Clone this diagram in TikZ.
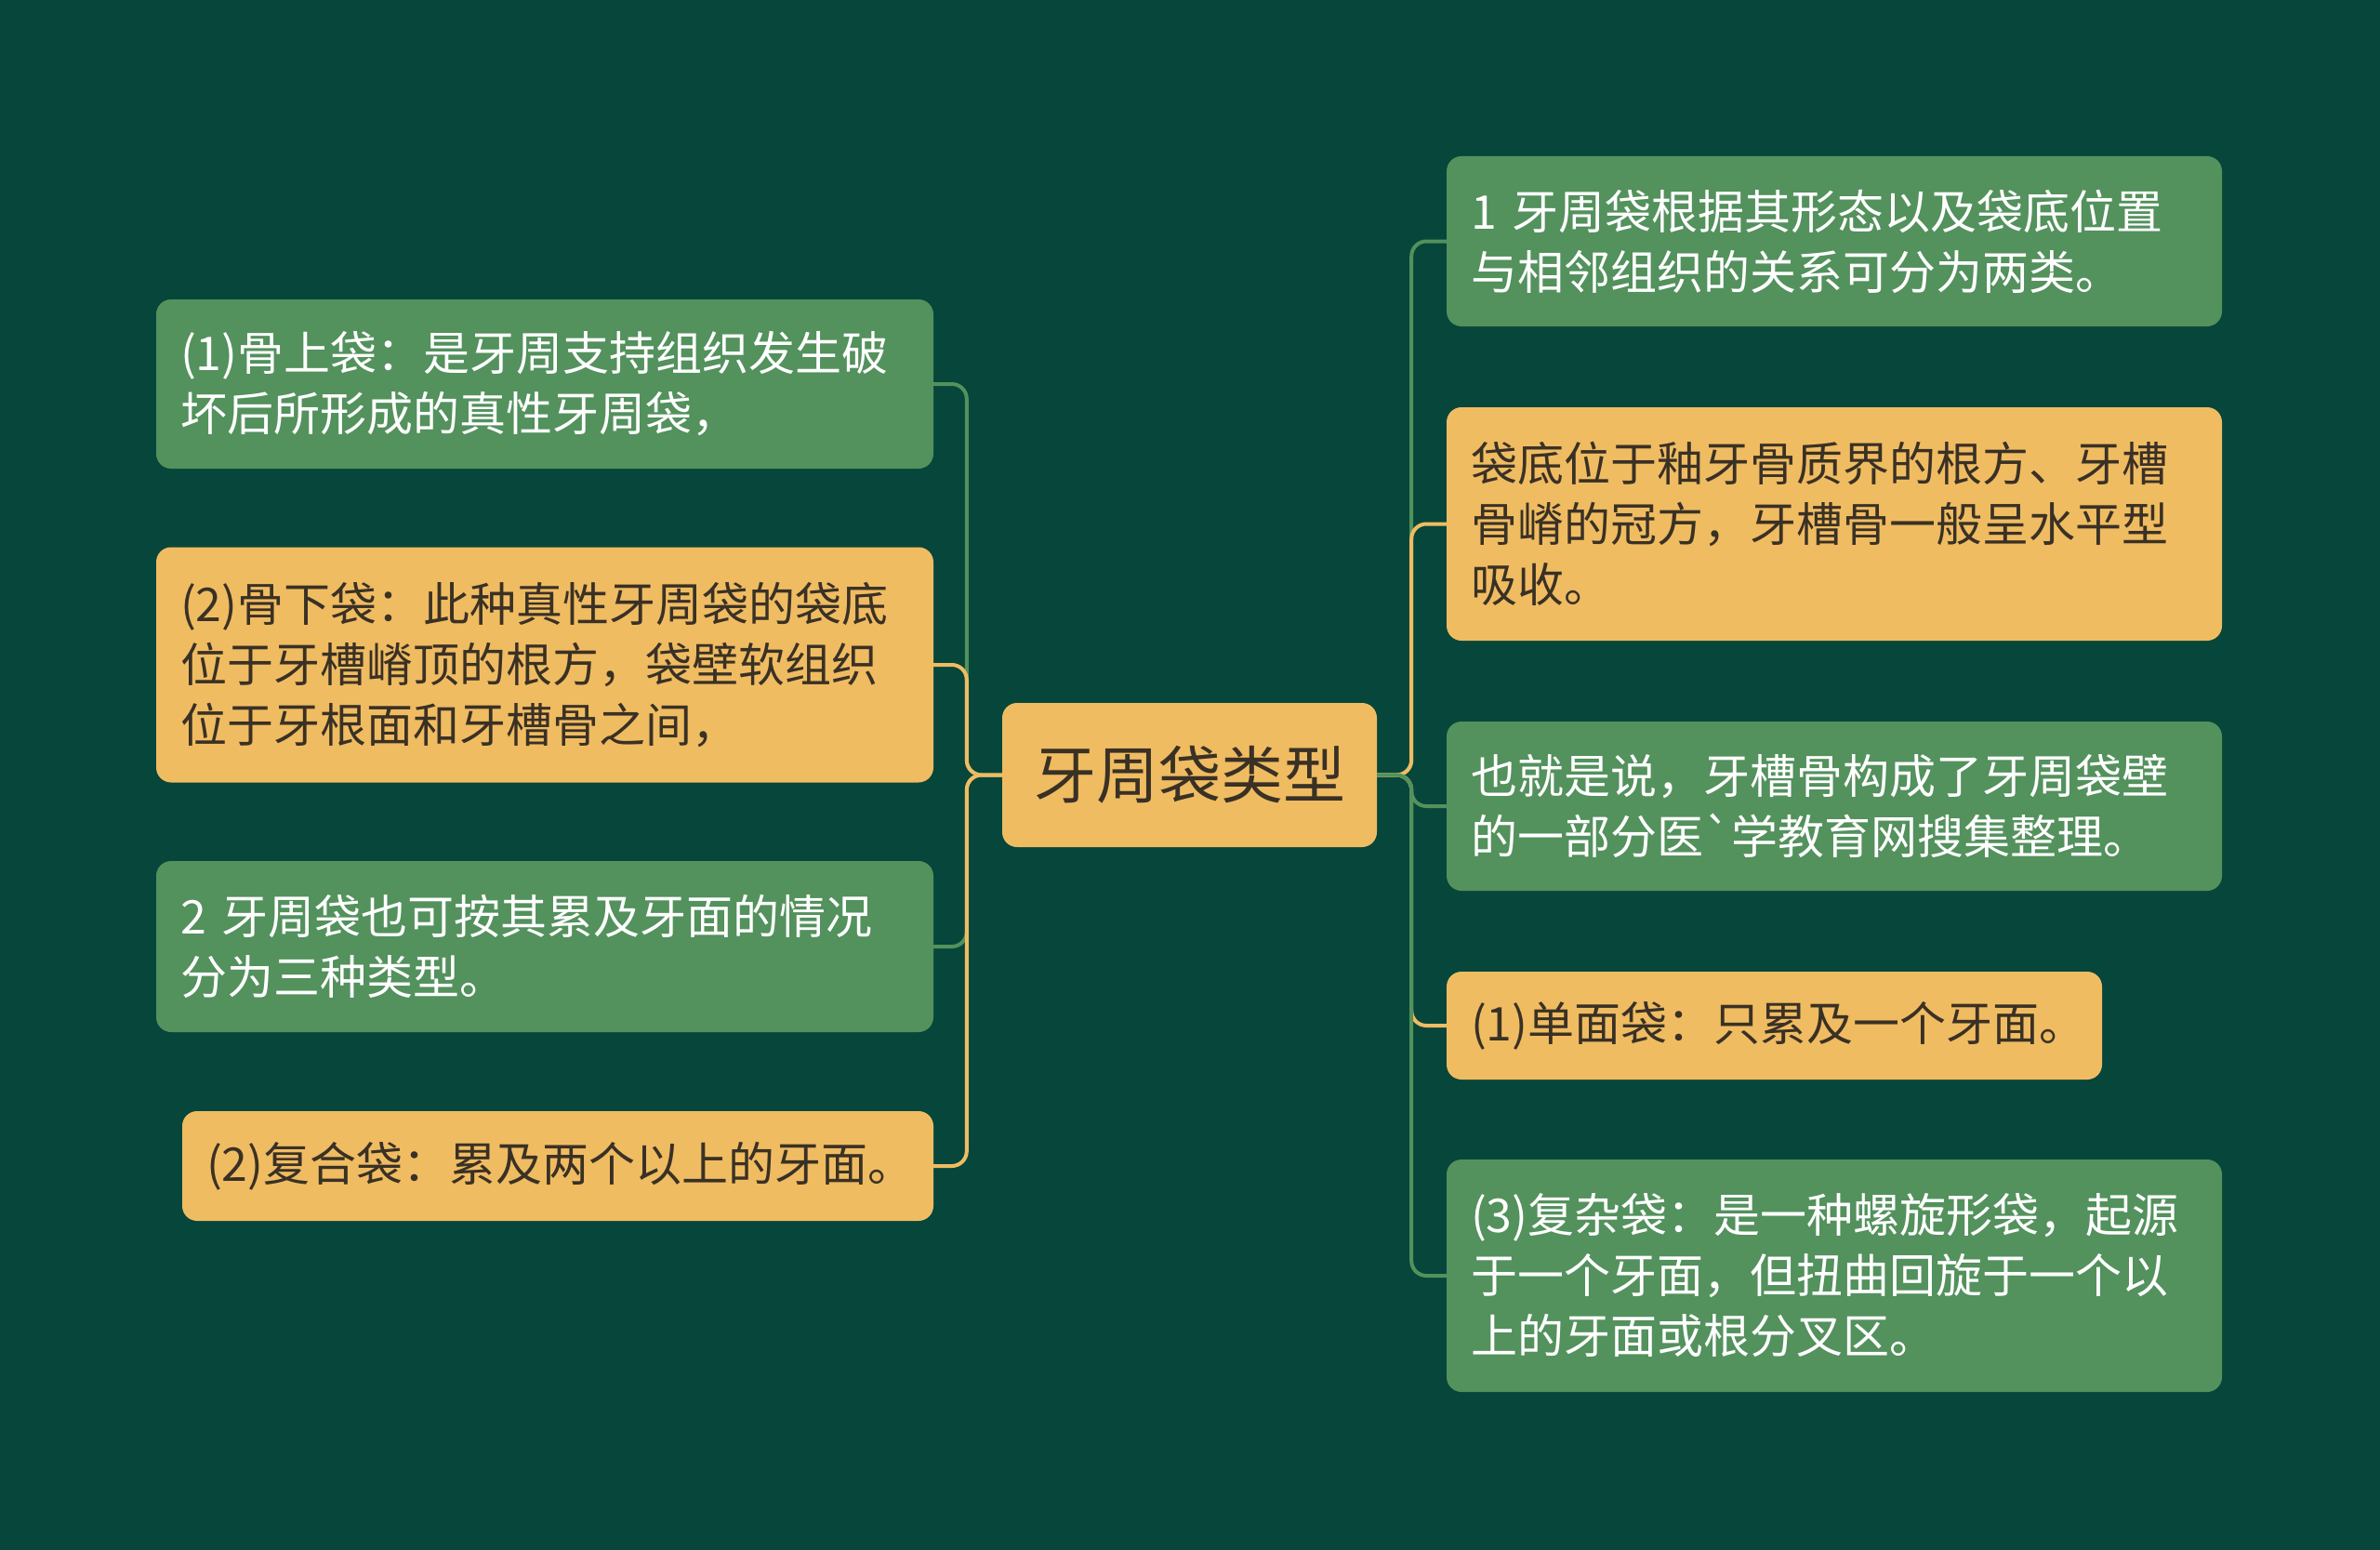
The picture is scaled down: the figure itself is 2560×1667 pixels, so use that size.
\documentclass[tikz,border=0pt]{standalone}
\usepackage{fontspec}
\setmainfont{Noto Sans CJK SC}
\newfontfamily\gravef{Noto Sans CJK SC}
\definecolor{bgc}{HTML}{07463A}
\definecolor{gbox}{HTML}{53915D}
\definecolor{obox}{HTML}{F0BC62}
\definecolor{dtext}{HTML}{3A3125}
\tikzset{
  box/.style={rounded corners=16pt, inner xsep=26pt, inner ysep=0pt, align=left,
    font=\fontsize{50}{65}\selectfont},
  gnode/.style={box, fill=gbox, text=white},
  onode/.style={box, fill=obox, text=dtext},
  gconn/.style={draw=gbox, line width=4pt, rounded corners=16pt},
  oconn/.style={draw=obox, line width=4pt, rounded corners=16pt},
}
\begin{document}
\begin{tikzpicture}[x=1pt,y=-1pt]
\fill[bgc] (0,0) rectangle (2560,1667);
\useasboundingbox (0,0) rectangle (2560,1667);

\node[fill=obox, text=dtext, rounded corners=16pt, minimum width=403pt, minimum height=155pt,
  inner sep=0pt, font=\fontsize{67}{80}\selectfont] (c) at (1279.5,833.5) {牙周袋类型};

\node[gnode, text width=784pt, minimum height=182pt] (L1) at (586,413)
  {(1)骨上袋：是牙周支持组织发生破\\坏后所形成的真性牙周袋，};
\node[onode, text width=784pt, minimum height=253pt] (L2) at (586,715)
  {(2)骨下袋：此种真性牙周袋的袋底\\位于牙槽嵴顶的根方，袋壁软组织\\位于牙根面和牙槽骨之间，};
\node[gnode, text width=784pt, minimum height=184pt] (L3) at (586,1018)
  {2 牙周袋也可按其累及牙面的情况\\分为三种类型。};
\node[onode, text width=756pt, minimum height=118pt] (L4) at (600,1254)
  {(2)复合袋：累及两个以上的牙面。};

\node[gnode, text width=782pt, minimum height=183pt] (R1) at (1973,259.5)
  {1 牙周袋根据其形态以及袋底位置\\与相邻组织的关系可分为两类。};
\node[onode, text width=782pt, minimum height=251pt] (R2) at (1973,563.5)
  {袋底位于釉牙骨质界的根方、牙槽\\骨嵴的冠方，牙槽骨一般呈水平型\\吸收。};
\node[gnode, text width=782pt, minimum height=182pt] (R3) at (1973,867)
  {也就是说，牙槽骨构成了牙周袋壁\\的一部分医{\gravef `}学教育网搜集整理。};
\node[onode, text width=653pt, minimum height=116pt] (R4) at (1908.5,1103)
  {(1)单面袋：只累及一个牙面。};
\node[gnode, text width=782pt, minimum height=250pt] (R5) at (1973,1372)
  {(3)复杂袋：是一种螺旋形袋，起源\\于一个牙面，但扭曲回旋于一个以\\上的牙面或根分叉区。};

\draw[gconn] (c.west) -- ++(-38,0) |- (L1.east);
\draw[oconn] (c.west) -- ++(-38,0) |- (L2.east);
\draw[gconn] (c.west) -- ++(-38,0) |- (L3.east);
\draw[oconn] (c.west) -- ++(-38,0) |- (L4.east);

\draw[gconn] (c.east) -- ++(37,0) |- (R1.west);
\draw[oconn] (c.east) -- ++(37,0) |- (R2.west);
\draw[gconn] (c.east) -- ++(37,0) |- (R3.west);
\draw[oconn] (c.east) -- ++(37,0) |- (R4.west);
\draw[gconn] (c.east) -- ++(37,0) |- (R5.west);
\end{tikzpicture}
\end{document}
